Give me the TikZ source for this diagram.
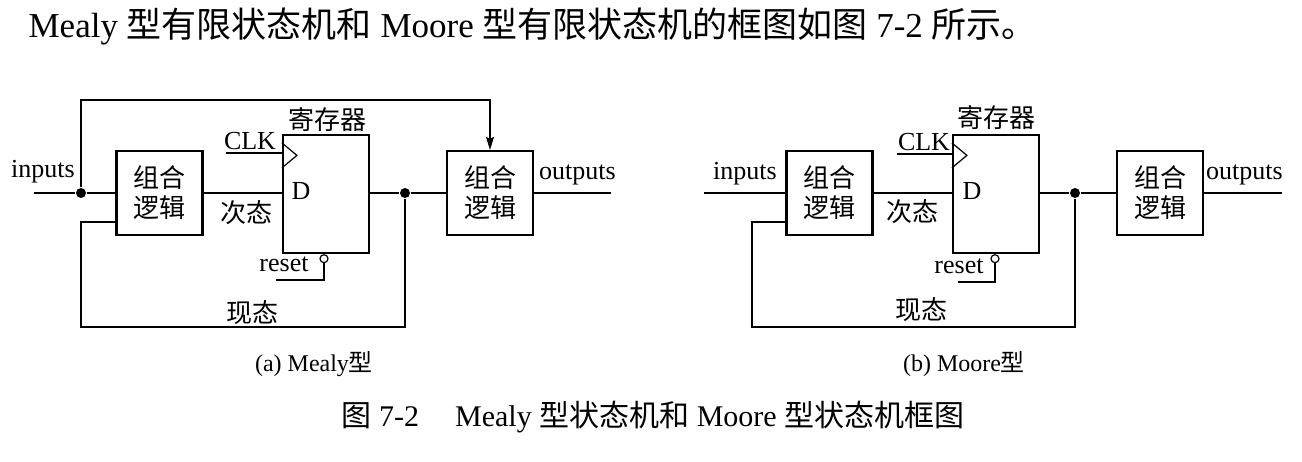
\documentclass[tikz,border=0pt]{standalone}
\usepackage{fontspec}
\setmainfont{Liberation Serif}
\newfontfamily\cjk{Noto Sans CJK SC}
\usetikzlibrary{arrows.meta}

\tikzset{
  logicbox/.style={draw, line width=2.2pt, minimum width=86pt, minimum height=84pt,
    inner sep=0pt, align=center, font=\cjk\fontsize{26}{30}\selectfont},
  regbox/.style={draw, line width=2.2pt, minimum width=86pt, minimum height=118pt, inner sep=0pt},
  txt/.style={inner sep=0pt, font=\fontsize{26}{30}\selectfont},
  cjktxt/.style={inner sep=0pt, font=\cjk\fontsize{26}{30}\selectfont},
  junction/.style={circle, fill, inner sep=0pt, minimum size=10pt},
  bubble/.style={circle, draw, line width=1.2pt, fill=white, inner sep=0pt, minimum size=8pt},
}

\begin{document}
\begin{tikzpicture}[x=1pt, y=-1pt, line width=1.2pt,
    >={Stealth[length=13pt,width=8pt,inset=2pt]}]
  \useasboundingbox (0,0) rectangle (1302,462);
  % heading
  \node[anchor=base west, inner sep=0pt, font=\fontsize{35}{40}\selectfont] (head) at (28,38)
    {Mealy {\cjk 型有限状态机和} Moore {\cjk 型有限状态机的框图如图} 7-2 {\cjk 所示。}};

  % (a) Mealy
  \node[logicbox] (lgA) at (159.5,193) {组合\\逻辑};
  \node[regbox] (regA) at (326,194) {};
  \node[logicbox] (olA) at (490,193) {组合\\逻辑};
  \node[junction] (jinA) at (81,193) {};
  \node[junction] (jstA) at (405,193) {};
  \node[bubble, anchor=north] (rbA) at ([xshift=-2pt]regA.south) {};
  \coordinate (inA) at (34,193);
  \coordinate (outA) at (611,193);
  \coordinate (tpA) at (81,100);
  \coordinate (fbA) at (81,327);
  \coordinate (ckA) at (226,153);
  \coordinate (rlA) at (276,280);
  \node[txt, anchor=base] (tinA) at (43,178) {inputs};
  \node[txt, anchor=base] (toutA) at (577.5,180) {outputs};
  \node[txt, anchor=base] (tclkA) at (250,150) {CLK};
  \node[txt, anchor=base west] (tdA) at (291,200) {D};
  \node[txt, anchor=base] (tresA) at (284,272) {reset};
  \node[cjktxt] (tregA) at (327,120) {寄存器};
  \node[cjktxt] (tnextA) at (246,213) {次态};
  \node[cjktxt] (tcurA) at (252,313) {现态};
  \draw (inA) -- (jinA) -- (jinA -| lgA.west);
  \draw[->] (jinA) -- (tpA) -| (olA.north);
  \draw (lgA.east) -- (lgA.east -| regA.west);
  \draw (regA.east |- jstA) -- (jstA) -- (jstA -| olA.west);
  \draw (olA.east) -- (outA);
  \draw (jstA) |- (fbA) |- ([yshift=-29pt]lgA.west);
  \draw (ckA) -- (ckA -| regA.west);
  \draw (regA.north west) ++(0,9) -- ++(15,12.5) -- ++(-15,12.5);
  \draw (rbA.south) |- (rlA);
  \node[anchor=base, inner sep=0pt, font=\fontsize{24}{28}\selectfont] (capA) at (314,372)
    {(a) Mealy{\cjk 型}};

  % (b) Moore
  \node[logicbox] (lgB) at (829.5,193) {组合\\逻辑};
  \node[regbox] (regB) at (996,194) {};
  \node[logicbox] (olB) at (1160,193) {组合\\逻辑};
  \node[junction] (jstB) at (1075,193) {};
  \node[bubble, anchor=north] (rbB) at ([xshift=-1pt]regB.south) {};
  \coordinate (inB) at (704,193);
  \coordinate (outB) at (1282,193);
  \coordinate (fbB) at (752,327);
  \coordinate (ckB) at (897,154);
  \coordinate (rlB) at (958,282);
  \node[txt, anchor=base] (tinB) at (745,180) {inputs};
  \node[txt, anchor=base] (toutB) at (1244.5,180) {outputs};
  \node[txt, anchor=base] (tclkB) at (924,151) {CLK};
  \node[txt, anchor=base west] (tdB) at (962,200) {D};
  \node[txt, anchor=base] (tresB) at (959,274) {reset};
  \node[cjktxt] (tregB) at (996,118) {寄存器};
  \node[cjktxt] (tnextB) at (912.5,212) {次态};
  \node[cjktxt] (tcurB) at (921,310) {现态};
  \draw (inB) -- (inB -| lgB.west);
  \draw (lgB.east) -- (lgB.east -| regB.west);
  \draw (regB.east |- jstB) -- (jstB) -- (jstB -| olB.west);
  \draw (olB.east) -- (outB);
  \draw (jstB) |- (fbB) |- ([yshift=-29pt]lgB.west);
  \draw (ckB) -- (ckB -| regB.west);
  \draw (regB.north west) ++(0,9) -- ++(15,12.5) -- ++(-15,12.5);
  \draw (rbB.south) |- (rlB);
  \node[anchor=base, inner sep=0pt, font=\fontsize{24}{28}\selectfont] (capB) at (964,372)
    {(b) Moore{\cjk 型}};

  % figure caption
  \node[anchor=base, inner sep=0pt, font=\fontsize{30}{34}\selectfont] (figcap) at (653,427)
    {{\cjk 图} 7-2\hspace{1.2em}Mealy {\cjk 型状态机和} Moore {\cjk 型状态机框图}};
\end{tikzpicture}
\end{document}
